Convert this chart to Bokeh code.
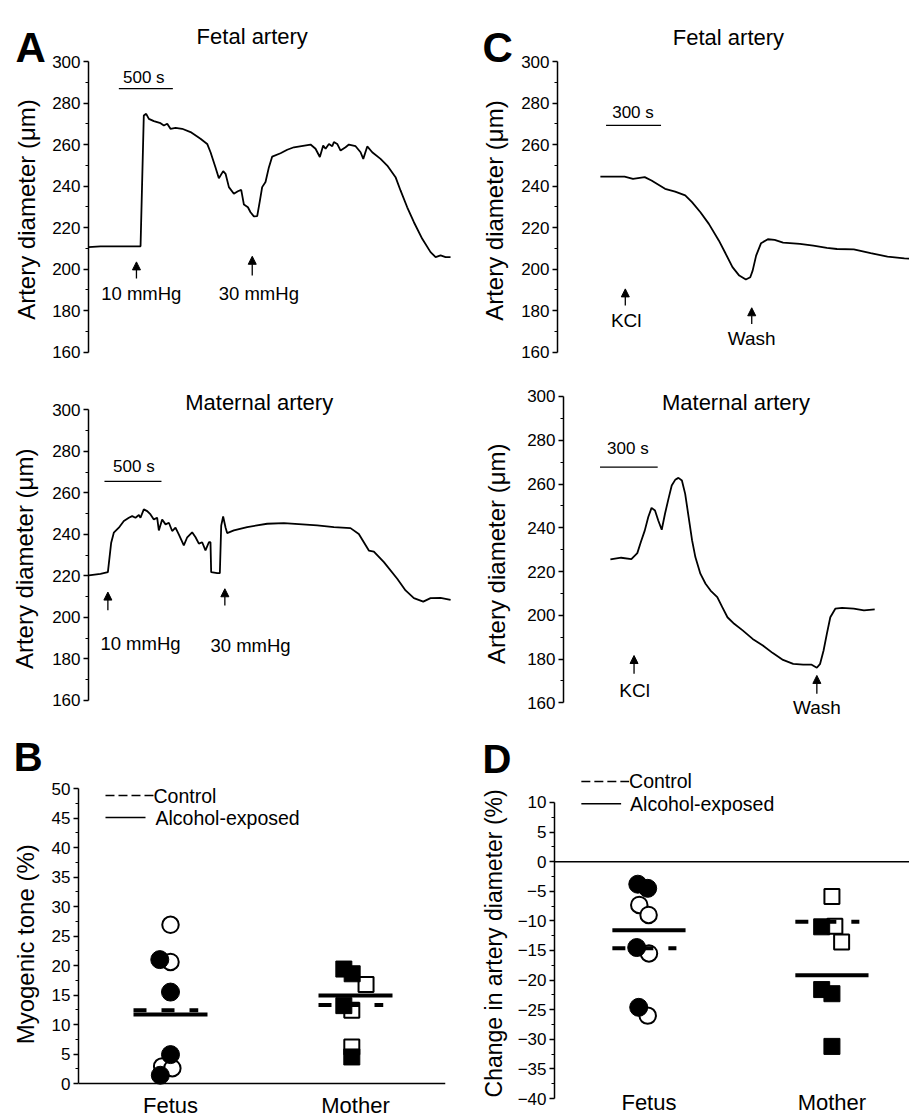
from math import pi
from bokeh.plotting import figure
from bokeh.models import Range1d, FixedTicker, Arrow, NormalHead, Span
from bokeh.layouts import row, column
from bokeh.embed import file_html
from bokeh.resources import INLINE
from bokeh.core.properties import value

FONT = "Liberation Sans"

# ---------------- data ----------------
# Panel A, fetal artery trace: time (s) / diameter (um)
a_fetal_t = [0, 111, 482, 512, 534, 559, 605, 667, 698, 729, 759, 806, 867, 945, 1037, 1099, 1130,
             1176, 1207, 1247, 1269, 1300, 1346, 1383, 1414, 1439, 1476, 1500, 1531, 1562, 1587, 1608,
             1639, 1670, 1701, 1778, 1840, 1902, 2056, 2102, 2142, 2173, 2195, 2226, 2257, 2272, 2303,
             2334, 2380, 2411, 2473, 2519, 2544, 2581, 2627, 2704, 2766, 2843, 2889, 2951, 3013, 3090,
             3167, 3214, 3260, 3306, 3352]
a_fetal_d = [210.6, 211, 211, 274, 274.8, 272.4, 271.3, 270.3, 269.2, 270, 267.6, 268, 267.6, 266,
             262.8, 260.3, 256.3, 249, 243.8, 247.2, 245.9, 239.5, 236.3, 237.5, 238.2, 231.1, 229.8,
             227.4, 225.4, 225.5, 233, 239.5, 242, 249, 254.2, 255.8, 257.5, 258.7, 260, 258, 254, 259.5,
             258, 260.3, 259.2, 261.2, 260.3, 257.1, 258.7, 260, 259.2, 256.3, 253.1, 259.1, 256.3,
             253.1, 249.9, 244.3, 237.9, 229.8, 222.6, 214.6, 208.2, 205.8, 206.6, 205.8, 205.8]
a_fetal_event_t = [444, 1516]
a_fetal_event_label_t = [489, 1577]
a_fetal_events = ["10 mmHg", "30 mmHg"]

# Panel A, maternal artery trace
a_mat_t = [0, 102, 167, 196, 219, 263, 307, 351, 380, 409, 439, 453, 482, 512, 541, 570, 599, 614,
           643, 673, 702, 731, 760, 789, 833, 863, 906, 936, 965, 994, 1023, 1053, 1067, 1073, 1126,
           1149, 1161, 1178, 1199, 1213, 1272, 1389, 1564, 1711, 2003, 2149, 2295, 2368, 2412, 2456,
           2500, 2588, 2705, 2778, 2851, 2933, 2997, 3085, 3173]
a_mat_d = [220.2, 221, 221.8, 236, 240.8, 243.2, 246.4, 248, 248.8, 248, 249.3, 248, 252, 251.2,
           249.6, 247.2, 248, 241.9, 247.2, 244.8, 245.6, 241.6, 243.2, 240, 234.7, 238.6, 241, 238.6,
           235.5, 236.2, 232.3, 236.2, 236.2, 221.8, 221.3, 221.3, 244.2, 248.6, 243.3, 240.6, 241.9,
           243.5, 245.1, 245.4, 244.3, 243.5, 243, 240.2, 236.2, 232.2, 231.7, 226.6, 218.6, 213,
           209.3, 207.6, 209.3, 209.4, 208.5]
a_mat_event_t = [167, 1193]
a_mat_event_label_t = [453, 1418]
a_mat_events = ["10 mmHg", "30 mmHg"]

# Panel C, fetal artery trace
c_fetal_t = [236, 368, 414, 478, 515, 589, 644, 699, 736, 782, 828, 883, 920, 957, 994, 1030, 1054,
             1067, 1086, 1113, 1150, 1187, 1233, 1325, 1398, 1472, 1527, 1619, 1711, 1803, 1895, 1945]
c_fetal_d = [244.6, 244.6, 243.5, 244.3, 242.7, 238.7, 237.3, 235.5, 232.3, 227.4, 221.8, 213.7,
             207.4, 201, 196.9, 195, 196.1, 199.3, 206.5, 212.5, 214.4, 214.1, 212.8, 212.2, 211.3,
             210.2, 209.7, 209.5, 207.7, 206, 205.2, 205]
c_fetal_event_t = [372, 1062]
c_fetal_events = ["KCl", "Wash"]

# Panel C, maternal artery trace
c_mat_t = [242, 298, 351, 382, 400, 421, 439, 456, 474, 491, 509, 526, 544, 561, 579, 596, 614, 631,
           649, 667, 684, 710, 737, 763, 798, 824, 851, 886, 930, 982, 1035, 1087, 1140, 1193, 1245,
           1289, 1316, 1333, 1351, 1368, 1386, 1412, 1447, 1508, 1561, 1617]
c_mat_d = [225.5, 226.3, 225.7, 228.4, 233.4, 238.8, 244.9, 249.1, 247.9, 243.3, 239.1, 246.4, 253.2,
           259.3, 261.9, 262.8, 261.6, 255.5, 244.9, 234.2, 226.6, 219, 214.4, 211.3, 208.3, 203.7,
           199.1, 196.1, 193.1, 189.2, 186.2, 182.7, 179.6, 177.8, 177.4, 177.4, 176, 177.8, 183.9,
           191.5, 199.1, 203, 203.4, 203, 202.2, 202.7]
c_mat_event_t = [365, 1316]
c_mat_events = ["KCl", "Wash"]

# Panel B: myogenic tone (%)
groups = ["Fetus", "Mother"]
group_pos = [1, 2]
b_ctrl_means = [12.4, 13.3]
b_alc_means = [11.7, 14.9]
b_fetus_ctrl_x = [1.00, 1.00, 0.955, 1.01]
b_fetus_ctrl_y = [26.9, 20.6, 2.9, 2.6]
b_fetus_alc_x = [0.942, 1.00, 1.00, 0.945]
b_fetus_alc_y = [21.0, 15.5, 4.9, 1.4]
b_mother_ctrl_x = [2.057, 1.98, 1.98]
b_mother_ctrl_y = [16.8, 12.4, 6.2]
b_mother_alc_x = [1.937, 1.982, 1.937, 1.98]
b_mother_alc_y = [19.4, 18.6, 13.2, 4.5]

# Panel D: change in artery diameter (%)
d_ctrl_means = [-14.6, -10.15]
d_alc_means = [-11.6, -19.2]
d_fetus_ctrl_x = [0.947, 0.998, 1.00, 0.993]
d_fetus_ctrl_y = [-7.3, -9.0, -15.5, -26.0]
d_fetus_alc_x = [0.939, 0.993, 0.933, 0.944]
d_fetus_alc_y = [-3.8, -4.5, -14.5, -24.6]
d_mother_ctrl_x = [2.00, 2.016, 2.053]
d_mother_ctrl_y = [-5.9, -10.9, -13.55]
d_mother_alc_x = [1.944, 1.944, 2.00, 2.00]
d_mother_alc_y = [-11.0, -21.6, -22.3, -31.2]

legend_labels = ["Control", "Alcohol-exposed"]
diam_ticks = list(range(160, 301, 20))
diam_minor = list(range(170, 300, 20))
diam_label = "Artery diameter (μm)"


# ---------------- helpers ----------------
def make_fig(w, h, xr, yr, mbl, mbr, mbt, mbb, x_axis=False, y_axis=True):
    p = figure(width=w, height=h, x_range=Range1d(*xr), y_range=yr,
               output_backend="svg", toolbar_location=None,
               x_axis_location=("below" if x_axis else None),
               y_axis_location=("left" if y_axis else None),
               min_border_left=mbl, min_border_right=mbr, min_border_top=mbt,
               min_border_bottom=mbb)
    p.outline_line_color = None
    p.grid.visible = False
    p.background_fill_color = "white"
    p.border_fill_color = "white"
    return p


def style_y(p, ticks, minors, bounds):
    ax = p.yaxis[0]
    ax.ticker = FixedTicker(ticks=ticks, minor_ticks=minors)
    ax.bounds = bounds
    ax.major_label_text_font = FONT
    ax.major_label_text_font_size = "17px"
    ax.major_label_text_color = "black"
    ax.major_label_standoff = 3
    ax.axis_line_color = "black"
    ax.axis_line_width = 1.5
    ax.major_tick_line_color = "black"
    ax.major_tick_line_width = 1.5
    ax.minor_tick_line_color = "black"
    ax.minor_tick_line_width = 1.2
    ax.major_tick_in = 0
    ax.major_tick_out = 5
    ax.minor_tick_in = 0
    ax.minor_tick_out = 3


def add_text(p, xs, ys, texts, size, align="center", baseline="middle", angle=0.0,
             bold=False):
    p.text(x=xs, y=ys, text=texts, text_font=value(FONT), text_font_size=value(size),
           text_align=align, text_baseline=baseline, text_color="black", angle=angle,
           text_font_style=("bold" if bold else "normal"))


def side_strip(main, w, label, label_x, label_y, letter=None, letter_x=0, letter_y=0,
               letter_size="42px", label_size="24px"):
    """Narrow figure left of a panel carrying the y-axis title and the panel letter."""
    s = make_fig(w, main.height, (0, w), main.y_range, 0, 0, main.min_border_top,
                 main.min_border_bottom, x_axis=False, y_axis=False)
    add_text(s, [label_x], [label_y], [label], label_size, angle=pi / 2)
    if letter:
        add_text(s, [letter_x], [letter_y], [letter], letter_size, align="left",
                 baseline="alphabetic", bold=True)
    return s


def add_arrows(p, xs, tails, tips):
    for x, y0, y1 in zip(xs, tails, tips):
        p.add_layout(Arrow(end=NormalHead(size=8, fill_color="black", line_color="black",
                                          line_width=1),
                           x_start=x, y_start=y0, x_end=x, y_end=y1,
                           line_color="black", line_width=1.3))


def add_bar(p, x0, length, y, label, tx, ty):
    p.segment(x0=[x0], y0=[y], x1=[x0 + length], y1=[y], line_color="black", line_width=1.3)
    add_text(p, [tx], [ty], [label], "17px")


# ---------------- Panel A, fetal ----------------
pA1 = make_fig(407, 365, (0, 3398), Range1d(153.6, 329.38), 40, 0, 0, 0)
style_y(pA1, diam_ticks, diam_minor, (160, 300))
pA1.line(a_fetal_t, a_fetal_d, line_color="black", line_width=1.8)
add_text(pA1, [1516], [312.2], ["Fetal artery"], "22px")
add_bar(pA1, 281, 500, 286.9, "500 s", 512, 292.2)
add_arrows(pA1, a_fetal_event_t, [195.5, 197.0], [203.5, 206.2])
add_text(pA1, a_fetal_event_label_t, [188.2, 188.2], a_fetal_events, "18.5px")
sA1 = side_strip(pA1, 48, diam_label, 25.5, 228.7, "A", 15, 306.7)

# ---------------- Panel C, fetal ----------------
pC1 = make_fig(392, 365, (2, 1923), Range1d(153.6, 329.38), 40, 0, 0, 0)
style_y(pC1, diam_ticks, diam_minor, (160, 300))
pC1.line(c_fetal_t, c_fetal_d, line_color="black", line_width=1.8)
add_text(pC1, [935], [311.6], ["Fetal artery"], "22px")
add_bar(pC1, 267, 300, 269.2, "300 s", 414, 275.6)
add_arrows(pC1, c_fetal_event_t, [182.5, 173.6], [190.5, 181.4])
add_text(pC1, [377, 1062], [175.4, 166.4], c_fetal_events, "19px")
sC1 = side_strip(pC1, 62, diam_label, 39, 228.2, "C", 27, 306.9)

# ---------------- Panel A, maternal ----------------
pA2 = make_fig(407, 355, (-3, 3216), Range1d(150.37, 321.3), 40, 0, 0, 0)
style_y(pA2, diam_ticks, diam_minor, (160, 300))
pA2.line(a_mat_t, a_mat_d, line_color="black", line_width=1.8)
add_text(pA2, [1494], [303.7], ["Maternal artery"], "22px")
add_bar(pA2, 137, 500, 265.5, "500 s", 395, 272.6)
add_arrows(pA2, a_mat_event_t, [203.4, 205.8], [212.2, 213.8])
add_text(pA2, a_mat_event_label_t, [187.3, 186.5], a_mat_events, "18.5px")
sA2 = side_strip(pA2, 48, diam_label, 24, 228.2)

# ---------------- Panel C, maternal ----------------
pC2 = make_fig(386, 355, (-2, 1798), Range1d(151.9, 314.17), 40, 0, 0, 0)
style_y(pC2, diam_ticks, diam_minor, (160, 300))
pC2.line(c_mat_t, c_mat_d, line_color="black", line_width=1.8)
add_text(pC2, [895], [297.1], ["Maternal artery"], "22px")
add_bar(pC2, 188, 300, 267.7, "300 s", 333, 276.1)
add_arrows(pC2, c_mat_event_t, [173.3, 164.1], [181.6, 172.5])
add_text(pC2, [368, 1316], [165.6, 158.0], c_mat_events, "19px")
sC2 = side_strip(pC2, 68, diam_label, 41, 228.1)


# ---------------- scatter panels ----------------
def scatter_groups(p, ctrl_sets, alc_sets, marker, size_open, size_fill):
    for xs, ys in ctrl_sets:
        p.scatter(xs, ys, marker=marker, size=size_open, fill_color="white",
                  line_color="black", line_width=2)
    for xs, ys in alc_sets:
        p.scatter(xs, ys, marker=marker, size=size_fill, fill_color="black",
                  line_color="black", line_width=1)


def mean_lines(p, ctrl, alc):
    x0 = [g - 0.2 for g in group_pos]
    p.segment(x0=x0, y0=alc, x1=[g + 0.2 for g in group_pos], y1=alc,
              line_color="black", line_width=4)
    p.segment(x0=x0, y0=ctrl, x1=[g + 0.15 for g in group_pos], y1=ctrl,
              line_color="black", line_width=4, line_dash="13 15")


def key(p, x0, x_dash_end, x_solid_end, x_txt, y_rows):
    p.segment(x0=[x0], y0=[y_rows[0]], x1=[x_dash_end], y1=[y_rows[0]],
              line_color="black", line_width=1.6, line_dash="9 4")
    p.segment(x0=[x0], y0=[y_rows[1]], x1=[x_solid_end], y1=[y_rows[1]],
              line_color="black", line_width=1.6)
    add_text(p, x_txt, y_rows, legend_labels, "19.5px", align="left")


def style_x(p, standoff):
    ax = p.xaxis[0]
    ax.ticker = FixedTicker(ticks=group_pos, minor_ticks=[])
    ax.major_label_overrides = {g: n for g, n in zip(group_pos, groups)}
    ax.major_label_text_font = FONT
    ax.major_label_text_font_size = "22px"
    ax.major_label_text_color = "black"
    ax.major_label_standoff = standoff
    ax.major_tick_in = 0
    ax.major_tick_out = 0
    ax.minor_tick_in = 0
    ax.minor_tick_out = 0
    ax.major_tick_line_color = None
    ax.minor_tick_line_color = None
    ax.axis_line_color = None


# Panel B
pB = make_fig(413, 400, (0.5027, 2.4865), Range1d(-2.54, 61.53), 36, 10, 0, 22, x_axis=True)
style_y(pB, list(range(0, 51, 5)), [2.5 + 5 * i for i in range(10)], (0, 50))
style_x(pB, -6)
pB.add_layout(Span(location=0, dimension="width", line_color="black", line_width=1.5))
scatter_groups(pB, [(b_fetus_ctrl_x, b_fetus_ctrl_y)], [(b_fetus_alc_x, b_fetus_alc_y)],
               "circle", 16.5, 18)
scatter_groups(pB, [(b_mother_ctrl_x, b_mother_ctrl_y)], [(b_mother_alc_x, b_mother_alc_y)],
               "square", 15, 16)
mean_lines(pB, b_ctrl_means, b_alc_means)
key(pB, 0.6486, 0.9081, 0.8649, [0.9081, 0.9189], [48.81, 45.08])
sB = side_strip(pB, 42, "Myogenic tone (%)", 25, 23.6, "B", 13.3, 55.3, "40px")

# Panel D
pD = make_fig(395, 400, (0.4837, 2.424), Range1d(-40, 23.85), 34, 0, 0, 22, x_axis=True)
style_y(pD, list(range(-40, 11, 5)), [-37.5 + 5 * i for i in range(10)], (-40, 10))
style_x(pD, -9)
pD.add_layout(Span(location=0, dimension="width", line_color="black", line_width=1.4))
scatter_groups(pD, [(d_fetus_ctrl_x, d_fetus_ctrl_y)], [(d_fetus_alc_x, d_fetus_alc_y)],
               "circle", 16.5, 18)
scatter_groups(pD, [(d_mother_ctrl_x, d_mother_ctrl_y)], [(d_mother_alc_x, d_mother_alc_y)],
               "square", 15, 16)
mean_lines(pD, d_ctrl_means, d_alc_means)
key(pD, 0.6304, 0.8913, 0.8478, [0.8913, 0.8967], [13.55, 9.78])
sD = side_strip(pD, 59, "Change in artery diameter (%)", 38, -13.8, "D", 27, 17.38, "40px",
                label_size="23px")

layout = column(row(sA1, pA1, sC1, pC1), row(sA2, pA2, sC2, pC2), row(sB, pB, sD, pD))

open("out.html", "w").write(file_html(layout, INLINE))
